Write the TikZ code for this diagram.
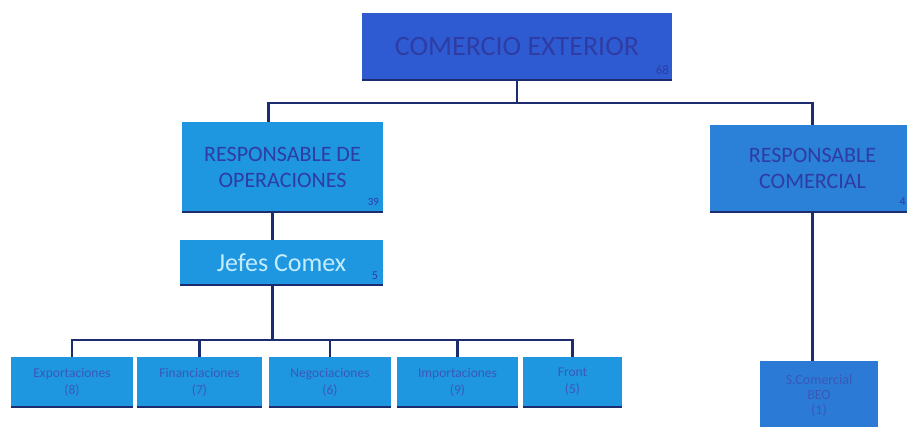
\documentclass[tikz,border=0pt]{standalone}
\usepackage{fontspec}
\setmainfont{Carlito}
\usetikzlibrary{calc}
\definecolor{topblue}{HTML}{2F5BD2}
\definecolor{midblue}{HTML}{1E97E0}
\definecolor{comblue}{HTML}{2B80D8}
\definecolor{subblue}{HTML}{2A7AD6}
\definecolor{inkblue}{HTML}{2E3CA4}
\definecolor{softink}{HTML}{3B58B8}
\definecolor{lineblue}{HTML}{1C2C6E}
\definecolor{paleink}{HTML}{C4ECFF}
\tikzset{
  x=1pt, y=-1pt,
  box/.style={fill=#1, draw=none, inner sep=0pt, align=center, text=inkblue},
  leaf/.style={box=midblue, minimum height=50pt, text=softink,
    font=\fontsize{13.5}{17}\selectfont},
  conn/.style={draw=lineblue, line width=2.6pt},
  shadowedge/.style={draw=lineblue, line width=1.6pt},
  tag/.style={text=inkblue, inner sep=0pt},
}
\begin{document}
\begin{tikzpicture}
\useasboundingbox[fill=white] (0,0) rectangle (907,426);

% boxes
\node[box=topblue, minimum width=310pt, minimum height=67pt,
      font=\fontsize{28}{28}\selectfont] (top) at (517,46.5) {COMERCIO EXTERIOR};
\node[box=midblue, minimum width=201pt, minimum height=90pt,
      font=\fontsize{22}{26}\selectfont] (respop) at (282.5,167) {RESPONSABLE DE\\OPERACIONES};
\node[box=comblue, minimum width=205pt, minimum height=87pt,
      font=\fontsize{22}{26}\selectfont] (respcom) at (812.5,168.5) {RESPONSABLE\\COMERCIAL};
\node[box=midblue, minimum width=203pt, minimum height=45pt, text=paleink,
      font=\fontsize{26}{26}\selectfont] (jefes) at (281.5,262.5) {Jefes Comex};

\node[leaf, minimum width=122pt] (exp) at (72,382) {Exportaciones\\(8)};
\node[leaf, minimum width=125pt] (fin) at (199.5,382) {Financiaciones\\(7)};
\node[leaf, minimum width=122pt] (neg) at (330,382) {Negociaciones\\(6)};
\node[leaf, minimum width=121pt] (imp) at (457.5,382) {Importaciones\\(9)};
\node[leaf, minimum width=99pt] (front) at (572.5,382) {Front\\(5)};
\node[box=subblue, minimum width=118pt, minimum height=70pt, text=softink,
      font=\fontsize{14}{15}\selectfont] (scom) at (819,396) {S.Comercial\\BEO\\(1)};

% dark lower edges
\foreach \n in {top,respop,respcom,jefes,exp,fin,neg,imp,front}
  \draw[shadowedge] (\n.south west) -- (\n.south east);

% small counts
\node[tag, font=\fontsize{13}{13}\selectfont, anchor=south east] (ntop) at ($(top.south east)+(-3,-5)$) {68};
\node[tag, font=\fontsize{11}{11}\selectfont, anchor=south east] (nop) at ($(respop.south east)+(-4,-6)$) {39};
\node[tag, font=\fontsize{12}{12}\selectfont, anchor=south east] (njef) at ($(jefes.south east)+(-5,-5)$) {5};
\node[tag, font=\fontsize{12}{12}\selectfont, anchor=south east] (ncom) at (906,206) {4};

% connectors
\coordinate (bar1) at (517,103);
\draw[conn] (top.south) -- (bar1);
\draw[conn] ($(respop.north)+(-14,0)$) |- (bar1) -| (respcom.north);
\draw[conn] ($(respop.south)+(-10,0)$) -- ($(jefes.north)+(-9,0)$);
\coordinate (bar2) at (272.5,340);
\draw[conn] ($(jefes.south)+(-9,0)$) -- (bar2);
\draw[conn] (exp.north) |- (bar2) -| (front.north);
\draw[conn] (fin.north) -- (fin.north |- bar2);
\draw[conn] (neg.north) -- (neg.north |- bar2);
\draw[conn] (imp.north) -- (imp.north |- bar2);
\draw[conn] (respcom.south) -- (respcom.south |- scom.north);
\end{tikzpicture}
\end{document}
